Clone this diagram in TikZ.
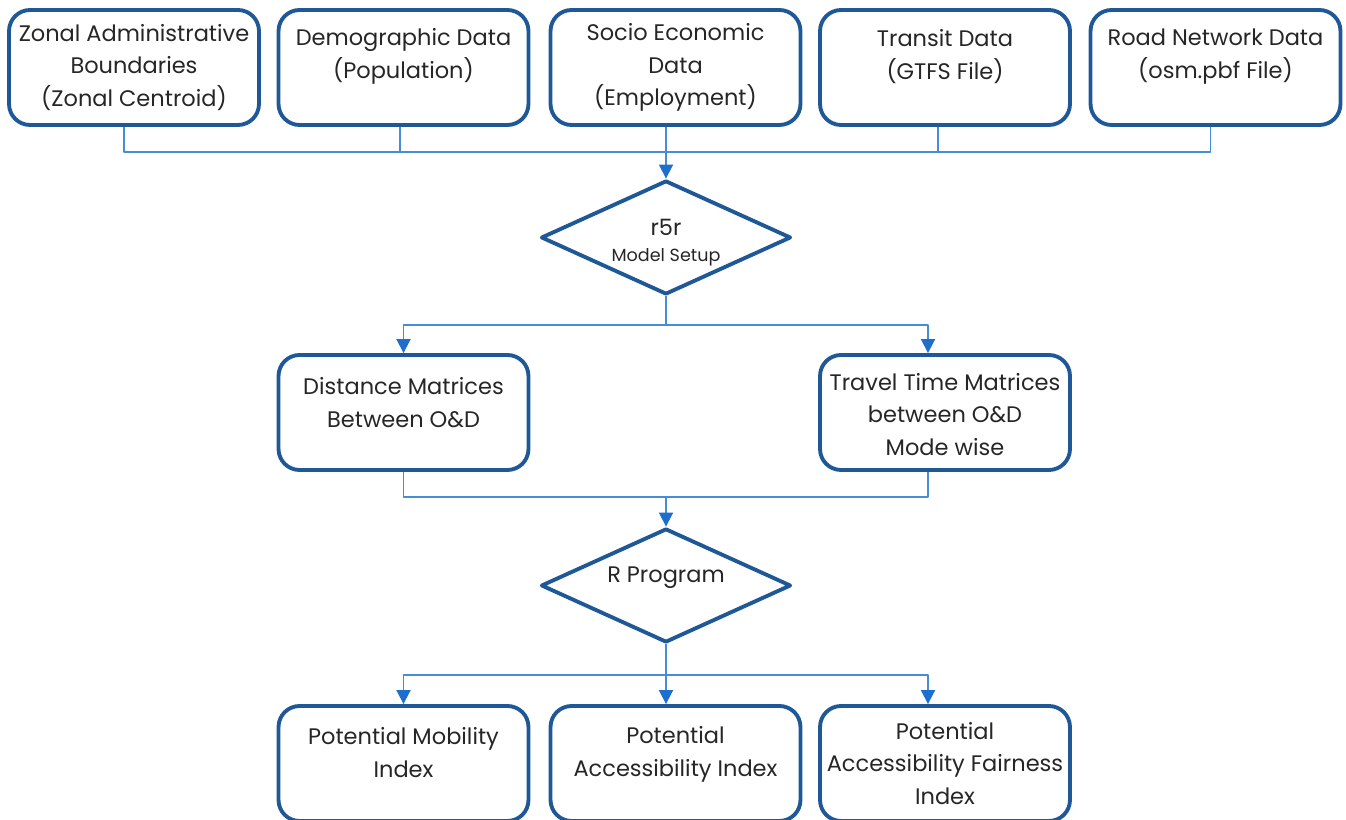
\documentclass[tikz,border=0pt]{standalone}
\usepackage{fontspec}
\setmainfont{Poppins}
\usetikzlibrary{arrows.meta,shapes.geometric}
\definecolor{boxblue}{RGB}{31,88,150}
\definecolor{linkblue}{RGB}{70,140,215}
\definecolor{tipblue}{RGB}{30,110,205}
\tikzset{
  box/.style={draw=boxblue, line width=2.2pt, rounded corners=0.42cm, minimum width=5.0cm, minimum height=2.3cm, inner sep=0pt},
  txt/.style={align=center, font=\fontsize{12.8}{18.5}\selectfont, text=black!85},
  decide/.style={draw=boxblue, line width=2.2pt, diamond, aspect=2.2, minimum width=5.0cm, minimum height=2.28cm, inner sep=0pt},
  link/.style={draw=linkblue, line width=1pt},
  arrow/.style={link, -{Triangle[width=8pt,length=8pt,color=tipblue]}}
}
\begin{document}
\begin{tikzpicture}[x=0.02cm, y=-0.02cm, line join=round]
	\clip (0,0) rectangle (1346,820);
	\useasboundingbox (0,0) rectangle (1346,820);
	
	% input boxes
	\node[box] (zone)    at (134,67.5)   {};
	\node[box] (demo)    at (403.5,67.5) {};
	\node[box] (socio)   at (675.5,67.5) {};
	\node[box] (transit) at (945,67.5)   {};
	\node[box] (road)    at (1215.5,67.5) {};
	\node[txt] (zone-t)    at (zone)    {Zonal Administrative\\Boundaries\\(Zonal Centroid)};
	\node[txt] (demo-t)    at ([yshift=0.22cm]demo)    {Demographic Data\\(Population)};
	\node[txt] (socio-t)   at (socio)   {Socio Economic\\Data\\(Employment)};
	\node[txt] (transit-t) at ([yshift=0.22cm]transit) {Transit Data\\(GTFS File)};
	\node[txt] (road-t)    at ([yshift=0.22cm]road)    {Road Network Data\\(osm.pbf File)};
	
	% decisions
	\node[decide] (r5r)  at (666,237.5) {};
	\node[txt, anchor=base] (r5r-t) at (666,236) {r5r};
	\node[txt, anchor=base, font=\fontsize{10}{12}\selectfont] (r5r-s) at (666,262) {Model Setup};
	\node[decide] (rprog) at (666,585.5) {};
	\node[txt, anchor=base] (rprog-t) at (666,583) {R Program};
	
	% matrices
	\node[box] (dist)   at (403.5,412.5) {};
	\node[box] (travel) at (945,412.5)   {};
	\node[txt] (dist-t)   at ([yshift=0.2cm]dist) {Distance Matrices\\Between O\&D};
	\node[txt] (travel-t) at ([yshift=-0.04cm]travel) {Travel Time Matrices\\between O\&D\\Mode wise};
	
	% outputs
	\node[box] (mob)  at (403.5,763.5) {};
	\node[box] (acc)  at (675.5,763.5) {};
	\node[box] (fair) at (945,763.5)   {};
	\node[txt] (mob-t)  at ([yshift=0.22cm]mob)  {Potential Mobility\\Index};
	\node[txt] (acc-t)  at ([yshift=0.18cm]acc)  {Potential\\Accessibility Index};
	\node[txt] (fair-t) at (fair) {Potential\\Accessibility Fairness\\Index};
	
	% connectors
	\coordinate (bus1) at (666,152);
	\coordinate (bus2) at (666,325);
	\coordinate (bus3) at (666,497);
	\coordinate (bus4) at (666,675);
	\draw[link] ([xshift=-0.2cm]zone.south) |- ([xshift=-0.1cm]road.south |- bus1) -- ([xshift=-0.1cm]road.south);
	\draw[link] ([xshift=-0.07cm]demo.south) -- ([xshift=-0.07cm]demo.south |- bus1);
	\draw[link] ([xshift=-0.14cm]transit.south) -- ([xshift=-0.14cm]transit.south |- bus1);
	\draw[link] (r5r.north |- socio.south) -- (bus1);
	\draw[arrow] (bus1) -- (r5r.north);
	
	\draw[link] (r5r.south) -- (bus2);
	\draw[arrow] (bus2) -| (dist.north);
	\draw[arrow] (bus2) -| ([xshift=-0.34cm]travel.north);
	
	\draw[link] (dist.south) |- ([xshift=-0.34cm]travel.south |- bus3) -- ([xshift=-0.34cm]travel.south);
	\draw[arrow] (bus3) -- (rprog.north);
	
	\draw[link] (rprog.south) -- (bus4);
	\draw[arrow] (bus4) -| (mob.north);
	\draw[arrow] (bus4) -- (acc.north -| bus4);
	\draw[arrow] (bus4) -| ([xshift=-0.34cm]fair.north);
\end{tikzpicture}
\end{document}
